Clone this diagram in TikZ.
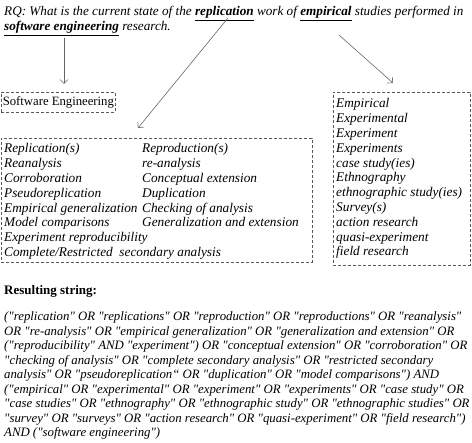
\documentclass[tikz,border=0pt]{standalone}
\usepackage{fontspec}
\setmainfont{Liberation Serif}[Ligatures=TeXOff]
\usetikzlibrary{arrows.meta}
\begin{document}
\begin{tikzpicture}[x=1pt,y=-1pt,
  txt/.style={inner sep=0pt, font=\fontsize{13.2}{14.8}\selectfont},
  boxtxt/.style={inner sep=0pt, font=\fontsize{13.3}{14.8}\selectfont\itshape},
  strtxt/.style={inner sep=0pt, font=\fontsize{12.8}{14.5}\selectfont\itshape},
  dbox/.style={draw=black!65, dash pattern=on 3pt off 2pt, line width=0.7pt},
  arr/.style={draw=black!60, line width=0.6pt, -{Straight Barb[length=4pt,width=8pt]}}]
\useasboundingbox (0,0) rectangle (472,443);

% research question
\node[txt, anchor=base west] (rq1) at (4,16) {\itshape RQ: What is the current state of the \underline{\textbf{replication}} work of \underline{\textbf{empirical}} studies performed in};
\node[txt, anchor=base west] (rq2) at (4,31) {\itshape \underline{\textbf{software engineering}} research.};

% boxes
\node[dbox, inner sep=0pt, font=\fontsize{12.7}{14.8}\selectfont, minimum width=114pt, minimum height=20pt, anchor=north west] (se) at (1,92) {Software Engineering};
\node[dbox, inner sep=0pt, minimum width=311pt, minimum height=124pt, anchor=north west] (mid) at (1,138) {};
\node[dbox, inner sep=0pt, minimum width=137pt, minimum height=173pt, anchor=north west] (emp) at (333,92) {};

\node[boxtxt, anchor=base west] (midtxt) at (4,153) {\begin{tabular}[t]{@{}l@{}l@{}}
\makebox[138pt][l]{Replication(s)} & Reproduction(s)\\
\makebox[138pt][l]{Reanalysis} & re-analysis\\
\makebox[138pt][l]{Corroboration} & Conceptual extension\\
\makebox[138pt][l]{Pseudoreplication} & Duplication\\
\makebox[138pt][l]{Empirical generalization} & Checking of analysis\\
\makebox[138pt][l]{Model comparisons} & Generalization and extension\\
\multicolumn{2}{@{}l@{}}{Experiment reproducibility}\\
\multicolumn{2}{@{}l@{}}{Complete/Restricted\ \ secondary analysis}
\end{tabular}};

\node[boxtxt, anchor=base west] (emptxt) at (336,108) {\begin{tabular}[t]{@{}l@{}}
Empirical\\ Experimental\\ Experiment\\ Experiments\\ case study(ies)\\ Ethnography\\
ethnographic study(ies)\\ Survey(s)\\ action research\\ quasi-experiment\\ field research
\end{tabular}};

% arrows
\coordinate (s1) at (64,38);  \coordinate (e1) at (64,84);
\coordinate (s2) at (228,18); \coordinate (e2) at (138,128);
\coordinate (s3) at (339,35); \coordinate (e3) at (393,83);
\draw[arr] (s1) -- (e1);
\draw[arr] (s2) -- (e2);
\draw[arr] (s3) -- (e3);

% resulting string
\node[txt, anchor=base west, font=\fontsize{13}{14.5}\selectfont\bfseries] (rs) at (4,295) {Resulting string:};
\node[strtxt, anchor=base west] (str) at (4,321) {\begin{tabular}[t]{@{}l@{}}
("replication" OR "replications" OR "reproduction" OR "reproductions" OR "reanalysis"\\
OR "re-analysis" OR "empirical generalization" OR "generalization and extension" OR\\
("reproducibility" AND "experiment") OR "conceptual extension" OR "corroboration" OR\\
"checking of analysis" OR "complete secondary analysis" OR "restricted secondary\\
analysis" OR "pseudoreplication“ OR "duplication" OR "model comparisons") AND\\
("empirical" OR "experimental" OR "experiment" OR "experiments" OR "case study" OR\\
"case studies" OR "ethnography" OR "ethnographic study" OR "ethnographic studies" OR\\
"survey" OR "surveys" OR "action research" OR "quasi-experiment" OR "field research")\\
AND ("software engineering")
\end{tabular}};
\end{tikzpicture}
\end{document}
